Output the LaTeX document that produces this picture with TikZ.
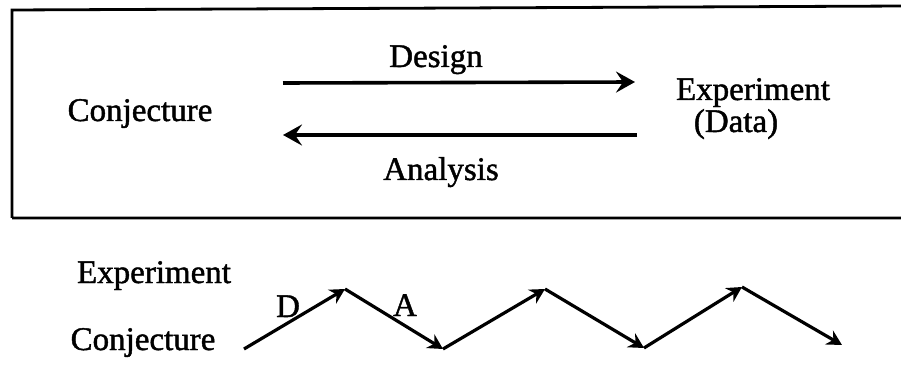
\documentclass[tikz,border=0pt]{standalone}
\usepackage{fontspec}
\setmainfont{Liberation Serif}[FakeBold=1.3]
\usetikzlibrary{arrows.meta}

\begin{document}
\begin{tikzpicture}[x=1pt, y=-1pt, every node/.style={font=\fontsize{33}{35}\selectfont, inner sep=0pt, anchor=base},
	box/.style={line width=2.8pt},
	flow/.style={line width=3.6pt, -{Stealth[length=19pt, width=21pt, inset=7pt]}},
	zig/.style={line width=3.2pt, -{Stealth[length=15pt, width=16pt, inset=5pt]}}]
	\useasboundingbox (0,0) rectangle (901,371);
	% upper panel
	\draw[box] (12,218) -- (12,10) -- (905,6) (12,218) -- (905,218);
	\node (conj) at (140,121) {Conjecture};
	\node (expt) at (753,100) {Experiment};
	\node (data) at (736,132) {(Data)};
	\coordinate (dstart) at (283,83);
	\coordinate (dend) at (635,82);
	\coordinate (astart) at (637,135);
	\coordinate (aend) at (283,135);
	\draw[flow] (dstart) -- (dend);
	\draw[flow] (astart) -- (aend);
	\node (design) at (436,67) {Design};
	\node (analysis) at (441,180) {Analysis};
	% lower panel
	\node (lexpt) at (154,283) {Experiment};
	\node (lconj) at (143,350) {Conjecture};
	\coordinate (z0) at (244,349);
	\coordinate (z1) at (345,289);
	\coordinate (z2) at (443,349);
	\coordinate (z3) at (545,289);
	\coordinate (z4) at (644,348);
	\coordinate (z5) at (742,287);
	\coordinate (z6) at (842,345);
	\foreach \a/\b in {z0/z1, z1/z2, z2/z3, z3/z4, z4/z5, z5/z6}
		\draw[zig] (\a) -- (\b);
	\node (dlab) at (288,317) {D};
	\node (alab) at (405,316) {A};
\end{tikzpicture}
\end{document}
